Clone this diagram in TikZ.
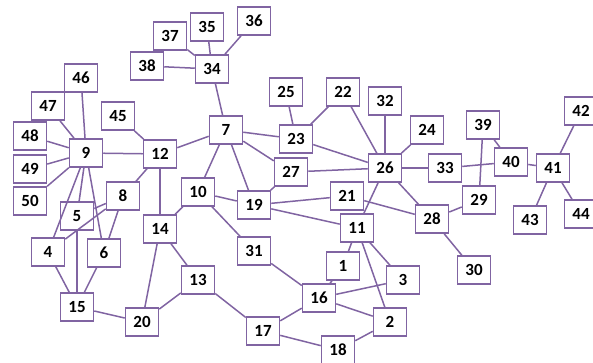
\documentclass[tikz,border=0pt]{standalone}
\usepackage{fontspec}
\setmainfont{Carlito}
\definecolor{edgepurple}{HTML}{8064A2}
\begin{document}
\begin{tikzpicture}[x=1pt,y=-1pt,
  nbox/.style={draw=edgepurple,line width=1.5pt,fill=white,minimum width=33pt,minimum height=28pt,inner sep=0pt,font=\fontsize{17}{20}\selectfont\bfseries,text=black},
  link/.style={draw=edgepurple,line width=1.5pt}]
\useasboundingbox (0,0) rectangle (593,363);
\foreach \n/\x/\y in {37/170/36,35/207/27,36/254/21,38/147/66,34/212/69,46/81/78,47/48/106,48/30/136,45/118/116,9/86/153,12/160/154,7/226/130,25/286/92,23/296/139,27/291/172,22/343/92,32/385/101,24/427/130,26/385/168,33/445/168,39/483/125,40/511/162,41/553/168,42/581/111,44/581/214,43/530/220,29/479/200,28/432/219,21/347/196,11/357/228,30/474/270,1/343/266,3/403/280,16/319/298,2/390/322,17/263/331,18/338/350,31/254/251,19/254/205,49/30/169,50/30/201,5/77/216,8/123/196,10/198/192,14/160/229,4/48/252,6/104/253,13/198/280,15/77/307,20/142/322}
  \node[nbox] (n\n) at (\x,\y) {\n};
\begin{scope}[on background layer/.try]
\end{scope}
\foreach \a/\b in {37/34,35/34,36/34,38/34,34/7,46/9,47/9,48/9,49/9,50/9,9/12,9/4,9/5,9/6,5/15,4/15,6/15,8/4,8/6,8/5,8/12,12/14,12/7,45/12,7/23,7/27,7/10,7/19,10/14,10/19,10/31,14/13,14/20,13/20,13/17,15/20,17/16,17/18,31/16,16/1,16/3,16/2,18/2,11/1,11/3,11/2,19/21,19/11,19/27,21/28,11/26,23/25,23/22,23/26,22/26,32/26,24/26,27/26,26/33,26/28,33/40,28/29,28/30,29/39,39/40,40/41,41/42,41/43,41/44}
  \draw[link] (n\a) -- (n\b);
\end{tikzpicture}
\end{document}
